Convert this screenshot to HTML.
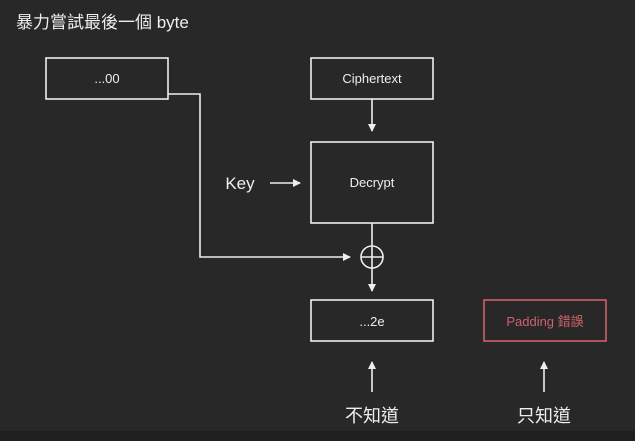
<!DOCTYPE html>
<html><head><meta charset="utf-8"><style>
html,body{margin:0;padding:0;background:#282828;}
</style></head><body>
<svg width="635" height="441" xmlns="http://www.w3.org/2000/svg" style="display:block">
<rect width="635" height="441" fill="#282828"/>
<rect y="431" width="635" height="10" fill="#1f1f1f"/>
<defs><marker id="a" markerWidth="8" markerHeight="8" refX="7" refY="4" orient="auto" markerUnits="userSpaceOnUse"><path d="M0,0 L8,4 L0,8 z" fill="#eee"/></marker></defs>
<g font-family="Liberation Sans, Noto Sans CJK TC, sans-serif" fill="#eee">
<text x="16" y="28" font-size="17">暴力嘗試最後一個 byte</text>
<g fill="none" stroke="#eee" stroke-width="1.6">
<rect x="46" y="58" width="122" height="41"/>
<rect x="311" y="58" width="122" height="41"/>
<rect x="311" y="142" width="122" height="81"/>
<rect x="311" y="300" width="122" height="41"/>
<rect x="484" y="300" width="122" height="41" stroke="#d0606a"/>
<circle cx="372" cy="257" r="11"/>
<line x1="361" y1="257" x2="383" y2="257"/>
<line x1="372" y1="246" x2="372" y2="268"/>
<line x1="372" y1="223" x2="372" y2="246"/>
<line x1="372" y1="99" x2="372" y2="131" marker-end="url(#a)"/>
<line x1="372" y1="268" x2="372" y2="291" marker-end="url(#a)"/>
<polyline points="168,94 200,94 200,257 350,257" marker-end="url(#a)"/>
<line x1="270" y1="183" x2="300" y2="183" marker-end="url(#a)"/>
<line x1="372" y1="392" x2="372" y2="362" marker-end="url(#a)"/>
<line x1="544" y1="392" x2="544" y2="362" marker-end="url(#a)"/>
</g>
<text x="107" y="83" font-size="13" text-anchor="middle">...00</text>
<text x="372" y="83" font-size="13" text-anchor="middle">Ciphertext</text>
<text x="372" y="187" font-size="13" text-anchor="middle">Decrypt</text>
<text x="372" y="326" font-size="13" text-anchor="middle">...2e</text>
<text x="545" y="326" font-size="13" text-anchor="middle" fill="#d0606a">Padding 錯誤</text>
<text x="240" y="189" font-size="17" text-anchor="middle">Key</text>
<text x="372" y="422" font-size="18" text-anchor="middle">不知道</text>
<text x="544" y="422" font-size="18" text-anchor="middle">只知道</text>
</g>
</svg>
</body></html>
